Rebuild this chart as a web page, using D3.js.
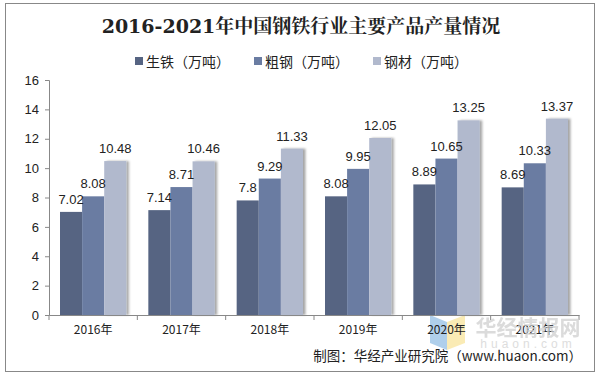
<!DOCTYPE html>
<html>
<head>
<meta charset="utf-8">
<script src="https://cdn.jsdelivr.net/npm/d3@7"></script>
<style>
body{margin:0;background:#fff;}
text{font-family:"Liberation Sans","Noto Sans CJK SC",sans-serif;fill:#222;}
</style>
</head>
<body>
<div id="chart"></div>
<script>
var width = 600;
var height = 376;

var years = ["2016年","2017年","2018年","2019年","2020年","2021年"];
var seriesNames = ["生铁（万吨）","粗钢（万吨）","钢材（万吨）"];
var pigIron = [7.02,7.14,7.8,8.08,8.89,8.69];
var crudeSteel = [8.08,8.71,9.29,9.95,10.65,10.33];
var steelProducts = [10.48,10.46,11.33,12.05,13.25,13.37];
var yTicks = [0,2,4,6,8,10,12,14,16];
var colors = ["#566482","#6a7ca2","#b1b9cd"];

var series = [pigIron, crudeSteel, steelProducts];

var svg = d3.select("#chart").append("svg").attr("width",width).attr("height",height);

var defs = svg.append("defs");
var f = defs.append("filter").attr("id","shadow").attr("x","-10%").attr("y","-5%").attr("width","140%").attr("height","110%");
f.append("feDropShadow").attr("dx",2.5).attr("dy",0).attr("stdDeviation",1.2).attr("flood-color","#000").attr("flood-opacity",0.35);

// frame
svg.append("rect").attr("x",5.5).attr("y",3.5).attr("width",589).attr("height",368)
	.attr("fill","#fff").attr("stroke","#888").attr("stroke-width",1);

svg.append("text").attr("x",301).attr("y",33).attr("text-anchor","middle")
	.style("font-family","'DejaVu Serif','Noto Serif CJK SC','Noto Sans CJK SC',serif")
	.style("font-size","19px").style("font-weight","bold")
	.text("2016-2021年中国钢铁行业主要产品产量情况");

// legend
var legendX = [135,254,373];
var legend = svg.append("g");
seriesNames.forEach(function(n,i){
	legend.append("rect").attr("x",legendX[i]).attr("y",57).attr("width",8).attr("height",8).attr("fill",colors[i]);
	legend.append("text").attr("x",legendX[i]+11).attr("y",66.5).style("font-size","14px")
		.style("font-family","'Noto Sans CJK SC',sans-serif").text(n);
});

var x = d3.scaleBand().domain(years).range([49,579]).paddingInner(0).paddingOuter(0);
var inner = d3.scaleBand().domain([0,1,2]).range([11, x.bandwidth()-11]).paddingInner(0).paddingOuter(0);
var y = d3.scaleLinear().domain([0,16]).range([315,80]);

// watermark logo
var wm = svg.append("g").style("opacity",0.55);
wm.append("path").attr("d","M430,315 L447,322 L447,350 L430,343 Z").attr("fill","#6fa8dc");
wm.append("path").attr("d","M447,322 L465,315 L465,343 L447,350 Z").attr("fill","#f6dc7a");

// y axis
var yAxis = svg.append("g").attr("transform","translate(49,0)")
	.call(d3.axisLeft(y).tickValues(yTicks).tickSize(4).tickPadding(6).tickFormat(d3.format("d")));
yAxis.select(".domain").attr("stroke","#888");
yAxis.selectAll(".tick line").attr("stroke","#888");
yAxis.selectAll("text").style("font-size","13px").attr("fill","#222");

// bars
series.forEach(function(vals,s){
	var g = svg.append("g");
	g.selectAll("rect").data(vals).enter().append("rect")
		.attr("x",function(d,i){return x(years[i])+inner(s);})
		.attr("y",function(d){return y(d);})
		.attr("width",inner.bandwidth())
		.attr("height",function(d){return y(0)-y(d);})
		.attr("fill",colors[s])
		.attr("filter", s==2 ? "url(#shadow)" : null);
});
series.forEach(function(vals,s){
	svg.append("g").selectAll("text").data(vals).enter().append("text")
		.attr("x",function(d,i){return x(years[i])+inner(s)+inner.bandwidth()/2;})
		.attr("y",function(d){return y(d)-8;})
		.attr("text-anchor","middle")
		.style("font-size","13px")
		.text(function(d){return d;});
});

// x axis
var xAxis = svg.append("g").attr("transform","translate(0,315)")
	.call(d3.axisBottom(x).tickSize(0).tickPadding(10));
xAxis.select(".domain").attr("stroke","#888");
xAxis.selectAll("text").style("font-size","12px").style("font-family","'Noto Sans CJK SC',sans-serif").attr("fill","#222");
svg.append("g").selectAll("line").data(years.concat([""])).enter().append("line")
	.attr("x1",function(d,i){return 49+i*x.bandwidth();})
	.attr("x2",function(d,i){return 49+i*x.bandwidth();})
	.attr("y1",315).attr("y2",320).attr("stroke","#888");

// watermark text
svg.append("text").attr("x",528).attr("y",335).attr("text-anchor","middle")
	.style("font-size","21px").style("font-weight","bold").style("fill","#cfcfcf").style("opacity",0.75)
	.style("font-family","'Noto Sans CJK SC',sans-serif").text("华经情报网");
svg.append("text").attr("x",528).attr("y",348).attr("text-anchor","middle")
	.style("font-size","12px").style("fill","#dddddd").style("letter-spacing","4px").text("huaon.com");

svg.append("text").attr("x",582).attr("y",361).attr("text-anchor","end")
	.style("font-size","13.5px").style("font-family","'Noto Sans CJK SC',sans-serif")
	.text("制图：华经产业研究院（www.huaon.com）");
</script>
</body>
</html>
